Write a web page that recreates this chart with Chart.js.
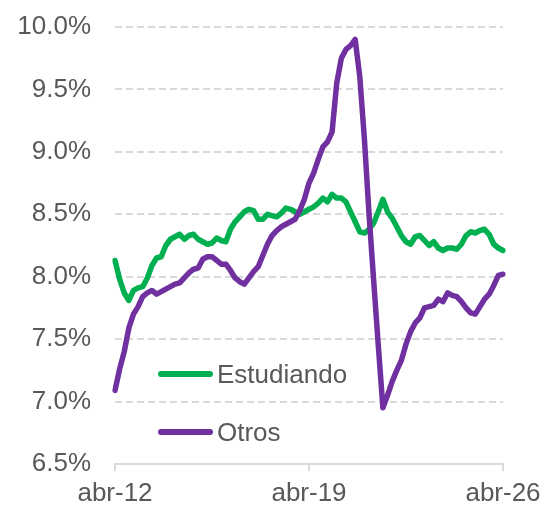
<!DOCTYPE html>
<html><head><meta charset="utf-8">
<script src="https://cdn.jsdelivr.net/npm/chart.js@4.4.1/dist/chart.umd.min.js"></script>
<style>
html,body{margin:0;padding:0;background:#fff;}
#wrap{position:relative;width:544px;height:507px;}
canvas{display:block;}
.lg{position:absolute;left:158px;height:30px;font:26px "Liberation Sans",Arial,sans-serif;color:#595959;display:flex;align-items:center;white-space:nowrap;}
.lg .sw{display:inline-block;width:55px;height:5.5px;border-radius:3px;margin-right:4px;}
</style></head><body>
<div id="wrap"><canvas id="c" width="544" height="507"></canvas>
<div class="lg" style="top:359px"><span class="sw" style="background:#00B050"></span>Estudiando</div>
<div class="lg" style="top:417px"><span class="sw" style="background:#7030A0"></span>Otros</div>
</div>
<script>
// Bimonthly categories from abr-12 to abr-26
const monthNames = ['ene','feb','mar','abr','may','jun','jul','ago','sep','oct','nov','dic'];
const categories = [];
for (let k = 0; k <= 168; k += 2) {
  const m = (3 + k) % 12;
  const yr = 12 + Math.floor((3 + k) / 12);
  categories.push(monthNames[m] + '-' + String(yr).padStart(2, '0'));
}
const tickLabels = ['abr-12', 'abr-19', 'abr-26'];

const estudiando = [
  8.13, 7.98, 7.87, 7.81, 7.89, 7.91, 7.92, 7.99, 8.09, 8.15,
  8.16, 8.25, 8.30, 8.32, 8.34, 8.30, 8.33, 8.34, 8.30, 8.28,
  8.26, 8.27, 8.31, 8.29, 8.28, 8.38, 8.44, 8.48, 8.52, 8.54,
  8.53, 8.46, 8.46, 8.50, 8.49, 8.48, 8.51, 8.55, 8.54, 8.52,
  8.50, 8.52, 8.54, 8.56, 8.59, 8.63, 8.60, 8.66, 8.63, 8.63,
  8.60, 8.52, 8.44, 8.36, 8.35, 8.38, 8.43, 8.52, 8.62, 8.52,
  8.47, 8.40, 8.33, 8.28, 8.26, 8.32, 8.33, 8.29, 8.25, 8.28,
  8.23, 8.21, 8.23, 8.23, 8.22, 8.26, 8.33, 8.36, 8.35, 8.37,
  8.38, 8.34, 8.26, 8.23, 8.21
];
const otros = [
  7.09, 7.26, 7.40, 7.59, 7.70, 7.76, 7.84, 7.87, 7.89, 7.86,
  7.88, 7.90, 7.92, 7.94, 7.95, 7.99, 8.03, 8.06, 8.07, 8.14,
  8.16, 8.16, 8.13, 8.10, 8.10, 8.05, 7.99, 7.96, 7.94, 7.99,
  8.04, 8.08, 8.17, 8.26, 8.33, 8.37, 8.40, 8.42, 8.44, 8.46,
  8.53, 8.62, 8.75, 8.83, 8.94, 9.04, 9.08, 9.16, 9.55, 9.75,
  9.82, 9.85, 9.90, 9.60, 9.10, 8.50, 7.97, 7.45, 6.95, 7.05,
  7.16, 7.25, 7.33, 7.46, 7.56, 7.63, 7.67, 7.75, 7.76, 7.77,
  7.82, 7.80, 7.87, 7.85, 7.84, 7.80, 7.75, 7.71, 7.70, 7.76,
  7.82, 7.86, 7.93, 8.01, 8.02
];

const FONT = '"Liberation Sans", Arial, sans-serif';
const TEXT = '#595959';
const GRID = '#D9D9D9';

new Chart(document.getElementById('c'), {
  type: 'line',
  data: {
    labels: categories,
    datasets: [
      { label: 'Estudiando', data: estudiando, borderColor: '#00B050', order: 1 },
      { label: 'Otros', data: otros, borderColor: '#7030A0', order: 0 }
    ]
  },
  options: {
    responsive: false,
    animation: false,
    devicePixelRatio: 1,
    layout: { padding: { top: 27, right: 41, left: 0, bottom: 0 } },
    plugins: { legend: { display: false }, tooltip: { enabled: false } },
    elements: {
      point: { radius: 0 },
      line: { borderWidth: 5.5, tension: 0, borderCapStyle: 'round', borderJoinStyle: 'round', fill: false }
    },
    scales: {
      x: {
        type: 'category',
        offset: false,
        afterFit: s => { s.height = 43; s.paddingLeft = 0; s.paddingRight = 0; },
        grid: {
          drawOnChartArea: false,
          drawTicks: true,
          tickLength: 7,
          lineWidth: 2,
          color: ctx => (tickLabels.includes(categories[ctx.index]) ? GRID : 'rgba(0,0,0,0)')
        },
        border: { display: true, color: GRID, width: 2 },
        ticks: {
          autoSkip: false,
          maxRotation: 0,
          color: TEXT,
          padding: 7,
          font: { size: 26, family: FONT },
          callback: function (v, i) { const l = categories[i]; return tickLabels.includes(l) ? l : ''; }
        }
      },
      y: {
        min: 6.5,
        max: 10,
        afterFit: s => { s.width = 115; s.paddingTop = 0; s.paddingBottom = 0; },
        border: { display: false, dash: [7, 4] },
        grid: { color: GRID, lineWidth: 2, drawTicks: false },
        ticks: {
          stepSize: 0.5,
          padding: 24,
          color: TEXT,
          font: { size: 26, family: FONT },
          callback: v => v.toFixed(1) + '%'
        }
      }
    }
  }
});
</script>
</body></html>
